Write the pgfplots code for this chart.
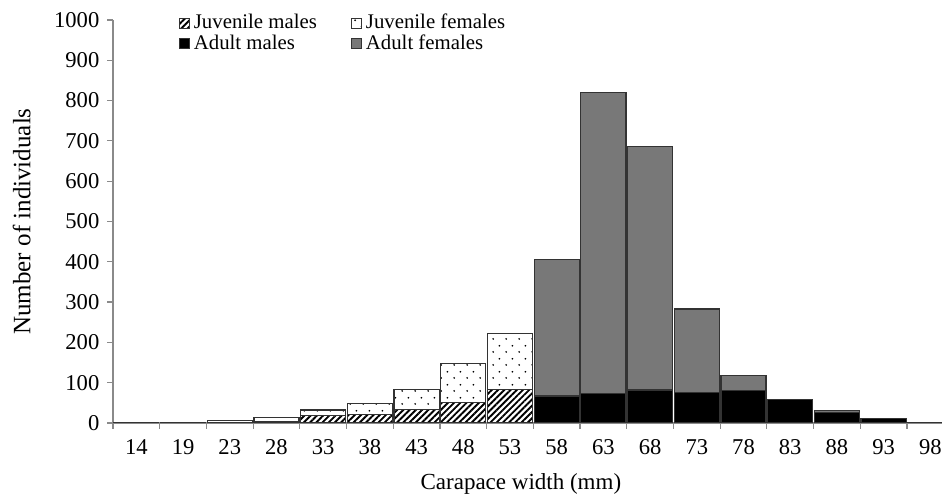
\documentclass[border=0pt]{standalone}
\usepackage{pgfplots}
\pgfplotsset{compat=1.18}
\usepackage{pgfplotstable}
\usepackage{fontspec}
\setmainfont{Liberation Serif}
\usetikzlibrary{patterns,patterns.meta}

% staggered dot fill for juvenile females
\tikzdeclarepattern{
  name=staggered dots,
  type=uncolored,
  bottom left={(0pt,0pt)},
  top right={(6.4pt,6.3pt)},
  tile size={(6.4pt,6.3pt)},
  code={
    \fill (1.6pt,1.6pt) circle (0.5pt);
    \fill (4.8pt,4.75pt) circle (0.5pt);
  }
}

\definecolor{adultfem}{HTML}{787878}
\definecolor{barline}{HTML}{333333}
\definecolor{axisgray}{HTML}{8A8A8A}

% small square legend swatch
\pgfplotsset{
  sqlegend/.style={
    /pgfplots/legend image code/.code={
      \draw[##1, draw=barline, line width=0.5pt] (0pt,-2.5pt) rectangle (5pt,2.5pt);
    }
  }
}

% carapace width class (index) and counts per group
\pgfplotstableread{
x  JM  JF   AM  AF
0  2   0    0   0
1  2   0    0   0
2  0   6    0   0
3  3   10   0   0
4  18  14   0   0
5  22  27   0   0
6  34  49   0   0
7  51  97   0   0
8  84  138  0   0
9  0   0    67  339
10 0   0    74  746
11 0   0    82  605
12 0   0    76  207
13 0   0    80  38
14 0   0    59  0
15 0   0    26  5
16 0   0    11  0
17 0   0    1   0
}\cwdata

\begin{document}
\begin{tikzpicture}
\useasboundingbox (-56.5pt,-36.5pt) rectangle (414.5pt,211.5pt);
\begin{axis}[
  at={(0,0)}, anchor=south west,
  scale only axis,
  width=414.5pt, height=201.5pt,
  ybar stacked,
  bar width=0.965,
  xmin=-0.5, xmax=17.25,
  ymin=0, ymax=1000,
  axis x line=bottom, axis y line=left,
  axis line style={-, draw=axisgray, line width=0.6pt},
  xtick={0,...,17},
  xticklabels={14,19,23,28,33,38,43,48,53,58,63,68,73,78,83,88,93,98},
  minor xtick={-0.5,0.5,...,16.5},
  major x tick style={draw=none},
  ytick={0,100,...,1000},
  tick style={draw=axisgray, line width=0.6pt},
  major tick length=2.8pt, minor tick length=2.8pt,
  tick align=outside,
  /pgf/number format/assume math mode=true,
  /pgf/number format/1000 sep={},
  tick label style={font=\fontsize{11.3}{13}\selectfont},
  xticklabel style={yshift=-2pt},
  yticklabel style={xshift=-0.5pt},
  xlabel={Carapace width (mm)},
  ylabel={Number of individuals},
  every axis x label/.style={at={(axis description cs:0.492,-0.151)}, anchor=center,
    font=\fontsize{11.5}{13}\selectfont},
  every axis y label/.style={at={(axis description cs:-0.11,0.5)}, rotate=90, anchor=center,
    font=\fontsize{12.5}{14}\selectfont},
  legend columns=2,
  legend cell align=left,
  legend style={at={(axis description cs:0.079,1.02)}, anchor=north west,
    draw=none, fill=none, font=\fontsize{10.4}{12}\selectfont,
    nodes={inner sep=1pt},
    /tikz/every odd column/.append style={column sep=1pt},
    /tikz/every even column/.append style={column sep=16pt},
    row sep=-0.6pt, inner sep=0pt},
  every axis plot/.append style={draw=barline, line width=0.6pt},
]
\addplot[sqlegend, pattern={Lines[angle=45,distance=2.2pt,line width=0.95pt]}, pattern color=black]
  table[x=x, y=JM] {\cwdata};
\addplot[sqlegend, pattern=staggered dots, pattern color=black]
  table[x=x, y=JF] {\cwdata};
\addplot[sqlegend, fill=black]
  table[x=x, y=AM] {\cwdata};
\addplot[sqlegend, fill=adultfem]
  table[x=x, y=AF] {\cwdata};
\legend{Juvenile males, Juvenile females, Adult males, Adult females}
\end{axis}
\end{tikzpicture}
\end{document}
